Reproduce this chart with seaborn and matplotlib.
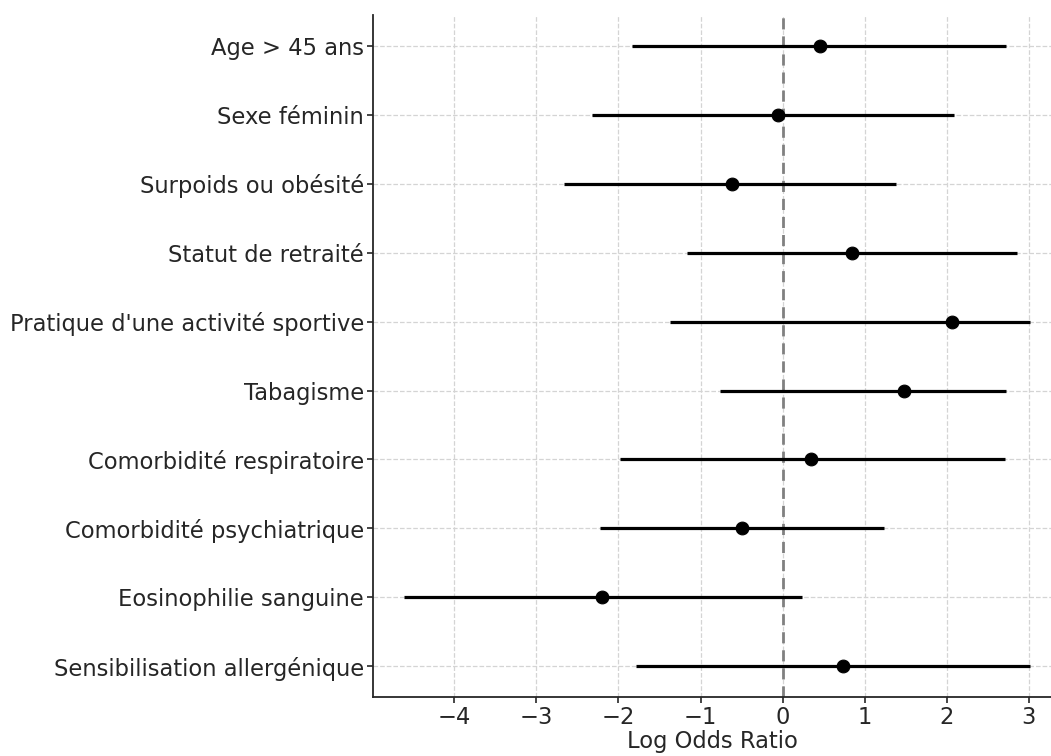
import seaborn as sns
import matplotlib.pyplot as plt
import pandas as pd

variables = [
    "Age > 45 ans",
    "Sexe féminin",
    "Surpoids ou obésité",
    "Statut de retraité",
    "Pratique d'une activité sportive",
    "Tabagisme",
    "Comorbidité respiratoire",
    "Comorbidité psychiatrique",
    "Eosinophilie sanguine",
    "Sensibilisation allergénique",
]
log_or = [0.45, -0.06, -0.62, 0.85, 2.06, 1.48, 0.35, -0.50, -2.20, 0.74]
ci_low = [-1.84, -2.32, -2.67, -1.16, -1.37, -0.76, -1.98, -2.22, -4.61, -1.79]
ci_high = [2.72, 2.09, 1.38, 2.85, 3.01, 2.72, 2.71, 1.23, 0.24, 3.01]

df = pd.DataFrame({"var": variables, "lor": log_or, "lo": ci_low, "hi": ci_high})
df["y"] = range(len(df))

sns.set_theme(style="ticks")
plt.rcParams["font.family"] = ["DejaVu Sans"]

fig = plt.figure(figsize=(10.51, 7.56), dpi=100)
ax = fig.add_axes([0.355, 0.078, 0.645, 0.902])

# confidence intervals, then the point estimates on top
ax.hlines(df["y"], df["lo"], df["hi"], color="black", lw=2.3, zorder=3)
sns.scatterplot(data=df, x="lor", y="y", color="black", s=85, edgecolor="black",
                zorder=4, ax=ax, legend=False)
ax.axvline(0, color="grey", ls=(0, (4, 2.5)), lw=2, zorder=2)

ax.set_yticks(df["y"])
ax.set_yticklabels(df["var"])
ax.set_ylim(len(df) - 0.55, -0.45)
ax.set_xlim(-4.99, 3.27)
ax.set_xticks([-4, -3, -2, -1, 0, 1, 2, 3])
ax.set_xlabel("Log Odds Ratio", fontsize=16.3, labelpad=1)
ax.set_ylabel("")
ax.tick_params(labelsize=16.3, length=4.5, width=1.2, pad=2)
ax.grid(True, ls="--", color="#d4d4d4", lw=0.9)
ax.set_axisbelow(True)
sns.despine(ax=ax)
for s in ["left", "bottom"]:
    ax.spines[s].set_linewidth(1.3)
    ax.spines[s].set_color("#262626")

fig.savefig("out.png", dpi=100)
